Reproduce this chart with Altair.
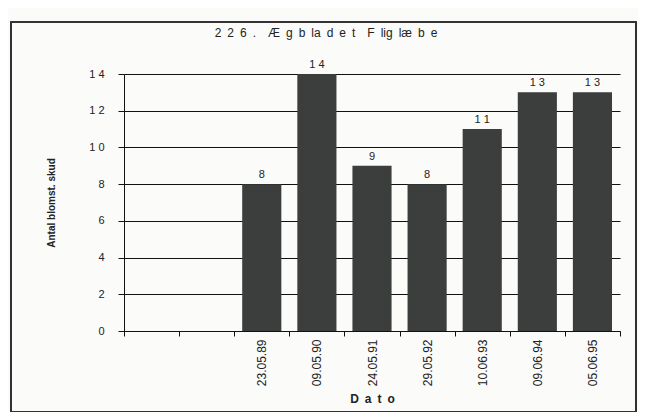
import altair as alt
import pandas as pd

slots = ["", " ", "23.05.89", "09.05.90", "24.05.91", "29.05.92", "10.06.93", "09.06.94", "05.06.95"]
dates = ["23.05.89", "09.05.90", "24.05.91", "29.05.92", "10.06.93", "09.06.94", "05.06.95"]
counts = [8, 14, 9, 8, 11, 13, 13]
y_ticks = [0, 2, 4, 6, 8, 10, 12, 14]

df = pd.DataFrame({"dato": dates, "antal": counts})
df["lbl"] = [" ".join(str(v)) for v in counts]

FONT = "Liberation Sans"
BAR = "#3b3e3d"
EN = "\u2002"
EM = "\u2003"
TITLE = EN.join("226.") + EM + EN.join(["Æ", "g", "b", "la", "d", "e", "t"]) + EM + EN.join(["F", "lig", "læ", "b", "e"])

x_scale = alt.Scale(domain=slots, paddingInner=0, paddingOuter=0)
y_scale = alt.Scale(domain=[0, 14], nice=False)

x_axis = alt.Axis(title=EN.join("Dato"), labelAngle=270, labelAlign="right", labelBaseline="middle",
                  labelPadding=3, labelFontSize=12, labelFont=FONT, labelColor="#222",
                  tickBand="extent", tickSize=5, tickColor="#111", domainColor="#111",
                  titleFont=FONT, titleFontSize=12, titleFontWeight="bold", titleColor="#222",
                  titlePadding=8, grid=False)
y_axis = alt.Axis(title="Antal blomst. skud", values=y_ticks,
                  labelExpr="datum.value >= 10 ? '1 ' + (datum.value - 10) : datum.label",
                  labelFont=FONT, labelFontSize=11, labelColor="#222", labelPadding=14,
                  tickSize=6, tickColor="#111", domainColor="#111",
                  grid=True, gridColor="#111", gridWidth=1.2,
                  titleFont=FONT, titleFontSize=10, titleFontWeight="bold", titleColor="#222",
                  titlePadding=32)

bars = alt.Chart(df).mark_bar(color=BAR, width=alt.RelativeBandSize(0.71)).encode(
    x=alt.X("dato:N", scale=x_scale, sort=slots, axis=x_axis),
    y=alt.Y("antal:Q", scale=y_scale, axis=y_axis),
)

labels = alt.Chart(df).mark_text(dy=-9, font=FONT, fontSize=11, color="#222").encode(
    x=alt.X("dato:N", scale=x_scale, sort=slots, axis=x_axis),
    y=alt.Y("antal:Q", scale=y_scale, axis=y_axis),
    text="lbl:N",
)

frame = alt.Chart(df).mark_rect(fill=None, stroke="#333", strokeWidth=1.2).encode(
    x=alt.value(-113), x2=alt.value(512), y=alt.value(-52), y2=alt.value(338)
)

chart = alt.layer(bars, labels, frame).properties(
    width=496, height=257,
    autosize=alt.AutoSizeParams(type="none"),
    padding={"left": 116, "top": 66, "right": 18, "bottom": 81},
    background="#fbfbfa",
    title=alt.TitleParams(TITLE, font=FONT, fontSize=12,
                          fontWeight="normal", color="#222", anchor="middle", frame="group",
                          dx=-46, offset=-19),
).configure_view(stroke=None)

chart.save("out.html", embed_options={"renderer": "svg", "actions": False})
